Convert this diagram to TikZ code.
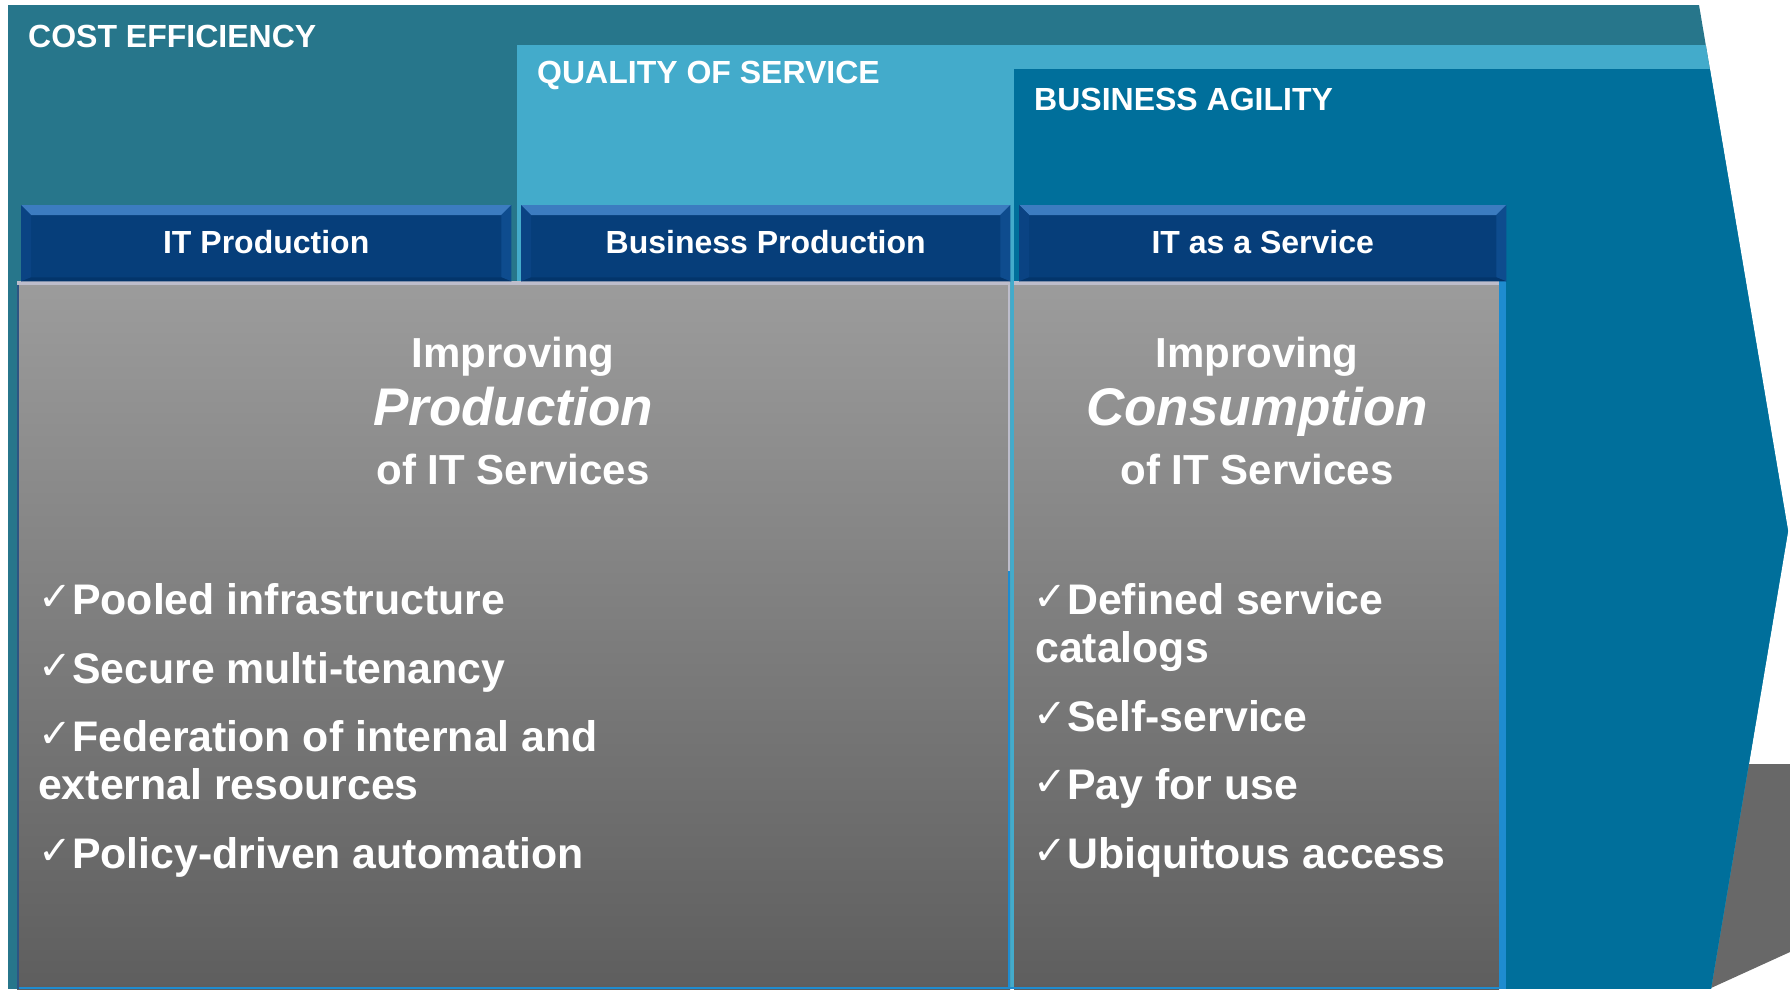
\documentclass[tikz,border=0pt]{standalone}
\usepackage{fontspec}
\setmainfont{Liberation Sans}
\newfontfamily\checkfont{DejaVu Sans}
\usetikzlibrary{calc}

\definecolor{costc}{HTML}{27768B}
\definecolor{qualc}{HTML}{43ABCB}
\definecolor{agilc}{HTML}{006F9B}
\definecolor{navy}{HTML}{063E7A}
\definecolor{bevtop}{HTML}{3C7CC0}
\definecolor{bevside}{HTML}{0A4383}
\definecolor{bevright}{HTML}{0E4C8E}
\definecolor{bevbot}{HTML}{03356B}
\definecolor{greytop}{HTML}{9C9C9C}
\definecolor{greybot}{HTML}{5E5E5E}
\definecolor{greyback}{HTML}{686868}
\definecolor{edgeblue}{HTML}{1E8CD0}
\definecolor{toplight}{HTML}{BDBDCB}

\newcommand{\ck}{\makebox[34pt][l]{\raisebox{4pt}{\checkfont\fontsize{40}{46}\selectfont ✓}}}

\begin{document}
\begin{tikzpicture}[x=1pt,y=-1pt,
  band/.style={anchor=base west, inner sep=0, text=white, font=\fontsize{32}{38}\selectfont\bfseries},
  hdr/.style={anchor=north west, inner sep=0, fill=navy, minimum height=76pt},
  hdrtext/.style={text=white, inner sep=0, font=\fontsize{32}{38}\selectfont\bfseries},
  gbox/.style={anchor=north west, inner sep=0, top color=greytop, bottom color=greybot, minimum height=708pt},
  ttl/.style={anchor=base, inner sep=0, text=white, font=\fontsize{42}{48}\selectfont\bfseries},
  ttlb/.style={anchor=base, inner sep=0, text=white, font=\fontsize{53}{60}\selectfont\bfseries\itshape},
  item/.style={anchor=base west, inner sep=0, text=white, font=\fontsize{42.8}{48}\selectfont\bfseries}
]
\useasboundingbox (0,0) rectangle (1790,989);
\fill[white] (0,0) rectangle (1790,989);

% grey shape behind the arrow
\fill[greyback] (1700,764) -- (1790,764) -- (1790,952) -- (1711,988) -- cycle;

% chevron with three bands
\begin{scope}
  \clip (8,5) -- (1699,5) -- (1788,531) -- (1711,989) -- (8,989) -- cycle;
  \fill[costc] (0,0) rectangle (1800,989);
  \fill[qualc] (517,45) rectangle (1800,989);
  \fill[agilc] (1014,69) rectangle (1800,989);
\end{scope}

\node[band] (ce) at (28,47) {COST EFFICIENCY};
\node[band] (qs) at (537,83) {QUALITY OF SERVICE};
\node[band] (ba) at (1034,110) {BUSINESS AGILITY};

% grey content boxes
\node[gbox, minimum width=993pt] (g1) at (17,281) {};
\node[gbox, minimum width=485pt] (g2) at (1014,281) {};
\fill[toplight] (g1.north west) rectangle ($(g1.north east)+(0,4)$);
\fill[toplight] (g2.north west) rectangle ($(g2.north east)+(0,4)$);
\fill[edgeblue] (g2.north east) rectangle ($(g2.south east)+(7,0)$);
\draw[line width=2pt, edgeblue] ($(g1.north east)+(-1,290)$) -- ($(g1.south east)+(-1,0)$);
\draw[line width=2pt, toplight] ($(g1.north east)+(-1,4)$) -- ($(g1.north east)+(-1,290)$);
\draw[line width=2pt, edgeblue] ($(g1.south west)+(0,-1)$) -- ($(g2.south east)+(7,-1)$);
\draw[line width=1.5pt, bevside!70!gray] ($(g1.north west)+(1,4)$) -- ($(g1.south west)+(1,0)$);

% header bars with bevel
\foreach \nm/\x/\w/\txt in {h1/21/490/IT Production, h2/521/489/Business Production, h3/1019/487/IT as a Service}{
  \node[hdr, minimum width=\w pt] (\nm) at (\x,205) {};
  \fill[bevtop] (\nm.north west) -- (\nm.north east) -- ($(\nm.north east)+(-10,10)$) -- ($(\nm.north west)+(10,10)$) -- cycle;
  \fill[bevside] (\nm.north west) -- ($(\nm.north west)+(10,10)$) -- ($(\nm.south west)+(10,-4)$) -- (\nm.south west) -- cycle;
  \fill[bevright] (\nm.north east) -- ($(\nm.north east)+(-10,10)$) -- ($(\nm.south east)+(-10,-4)$) -- (\nm.south east) -- cycle;
  \fill[bevbot] (\nm.south west) -- ($(\nm.south west)+(10,-4)$) -- ($(\nm.south east)+(-10,-4)$) -- (\nm.south east) -- cycle;
  \node[hdrtext] (\nm t) at ($(\nm.center)+(0,-1)$) {\txt};
}

% titles
\node[ttl] (t1a) at (513,367) {Improving};
\node[ttlb] (t1b) at (513,425) {Production};
\node[ttl] (t1c) at (513,484) {of IT Services};
\node[ttl] (t2a) at (1257,367) {Improving};
\node[ttlb] (t2b) at (1257,425) {Consumption};
\node[ttl] (t2c) at (1257,484) {of IT Services};

% left bullets
\node[item] (l1) at (38,614) {\ck Pooled infrastructure};
\node[item] (l2) at (38,683) {\ck Secure multi-tenancy};
\node[item] (l3) at (38,751) {\ck Federation of internal and};
\node[item] (l3b) at (38,799) {external resources};
\node[item] (l4) at (38,868) {\ck Policy-driven automation};

% right bullets
\node[item] (r1) at (1033,614) {\ck Defined service};
\node[item] (r1b) at (1035,662) {catalogs};
\node[item] (r2) at (1033,731) {\ck Self-service};
\node[item] (r3) at (1033,799) {\ck Pay for use};
\node[item] (r4) at (1033,868) {\ck Ubiquitous access};
\end{tikzpicture}
\end{document}
